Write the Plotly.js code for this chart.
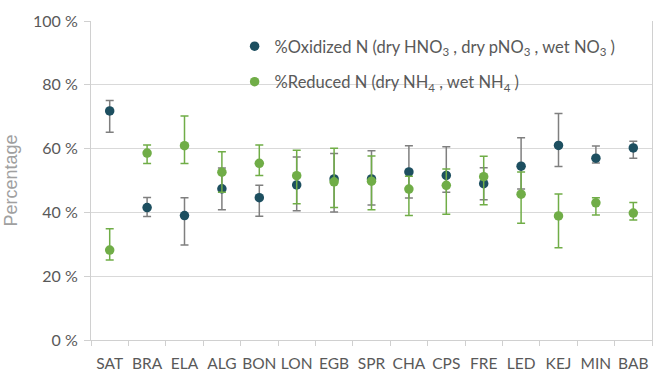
<!DOCTYPE html>
<html>
<head>
<meta charset="utf-8">
<script src="https://cdn.plot.ly/plotly-3.0.1.min.js"></script>
<style>html,body{margin:0;padding:0;background:#fff;}#chart{width:653px;height:374px;}</style>
</head>
<body>
<div id="chart"></div>
<script>
const sites = ["SAT","BRA","ELA","ALG","BON","LON","EGB","SPR","CHA","CPS","FRE","LED","KEJ","MIN","BAB"];

const oxMean = [71.8, 41.5, 39.0, 47.4, 44.6, 48.6, 50.5, 50.5, 52.7, 51.6, 49.0, 54.5, 61.0, 57.0, 60.2];
const oxHigh = [75.1, 44.7, 44.6, 53.9, 48.5, 57.4, 58.5, 59.3, 60.9, 60.6, 54.0, 63.4, 71.0, 60.8, 62.3];
const oxLow  = [65.1, 38.7, 29.8, 40.8, 38.8, 40.5, 40.1, 42.3, 44.5, 46.3, 44.0, 47.3, 54.4, 55.5, 57.0];

const redMean = [28.2, 58.6, 60.9, 52.6, 55.4, 51.5, 49.6, 49.8, 47.3, 48.5, 51.2, 45.7, 38.9, 43.0, 39.8];
const redHigh = [34.9, 61.1, 70.2, 59.0, 61.1, 59.5, 60.1, 57.7, 51.3, 53.6, 57.6, 52.7, 45.8, 44.6, 43.1];
const redLow  = [25.1, 55.3, 55.3, 46.3, 51.6, 42.7, 41.5, 40.8, 39.0, 39.4, 42.4, 36.6, 28.9, 39.2, 37.6];

const yTicks = [0, 20, 40, 60, 80, 100];
const yTickLabels = ["0 %", "20 %", "40 %", "60 %", "80 %", "100 %"];

const oxName = "%Oxidized N (dry HNO<sub>3</sub> , dry pNO<sub>3</sub> , wet NO<sub>3</sub> )";
const redName = "%Reduced N (dry NH<sub>4</sub> , wet NH<sub>4</sub> )";

const traces = [
  {
    type: "scatter", mode: "markers", name: oxName, legendgroup: "ox",
    x: sites, y: oxMean,
    marker: {color: "#1d4f60", size: 9.5},
    error_y: {type: "data", symmetric: false,
      array: oxHigh.map((v, i) => v - oxMean[i]),
      arrayminus: oxMean.map((v, i) => v - oxLow[i]),
      color: "#7f7f7f", thickness: 1.5, width: 4}
  },
  {
    type: "scatter", mode: "markers", name: redName, legendgroup: "red",
    x: sites, y: redMean,
    marker: {color: "#70ad47", size: 9.5},
    error_y: {type: "data", symmetric: false,
      array: redHigh.map((v, i) => v - redMean[i]),
      arrayminus: redMean.map((v, i) => v - redLow[i]),
      color: "#70ad47", thickness: 1.5, width: 4}
  }
];

const layout = {
  width: 653, height: 374,
  margin: {l: 91, r: 1, t: 21, b: 34},
  paper_bgcolor: "#ffffff", plot_bgcolor: "#ffffff",
  font: {family: "Lato, 'Open Sans', sans-serif", color: "#595959", size: 15},
  showlegend: true,
  legend: {
    x: 0.256, y: 0.975, xanchor: "left", yanchor: "top",
    bgcolor: "rgba(0,0,0,0)", tracegroupgap: 11,
    traceorder: "grouped",
    font: {family: "Lato, 'Open Sans', sans-serif", size: 16.5, color: "#595959"}
  },
  xaxis: {
    type: "category", range: [-0.5, 14.5],
    showgrid: false, showline: true, linecolor: "#d0d0d0", linewidth: 1,
    ticks: "outside", tickson: "boundaries", ticklen: 5, tickcolor: "#d0d0d0",
    tickangle: 0, automargin: false, ticklabelstandoff: 9,
    tickfont: {size: 15.5, color: "#595959"}, zeroline: false, fixedrange: true
  },
  yaxis: {
    range: [0, 100], tickvals: yTicks, ticktext: yTickLabels,
    showgrid: true, gridcolor: "#d9d9d9", gridwidth: 1,
    showline: true, mirror: true, linecolor: "#d0d0d0", linewidth: 1,
    ticks: "outside", ticklen: 6, tickcolor: "#d0d0d0", ticklabelstandoff: 3,
    tickfont: {size: 16, color: "#595959"}, zeroline: false,
    title: {text: "Percentage", standoff: 10,
      font: {family: "'Liberation Sans', Arial, sans-serif", size: 18, color: "#a0a0a0"}}
  }
};

Plotly.newPlot("chart", traces, layout, {displayModeBar: false, staticPlot: true});
</script>
</body>
</html>
